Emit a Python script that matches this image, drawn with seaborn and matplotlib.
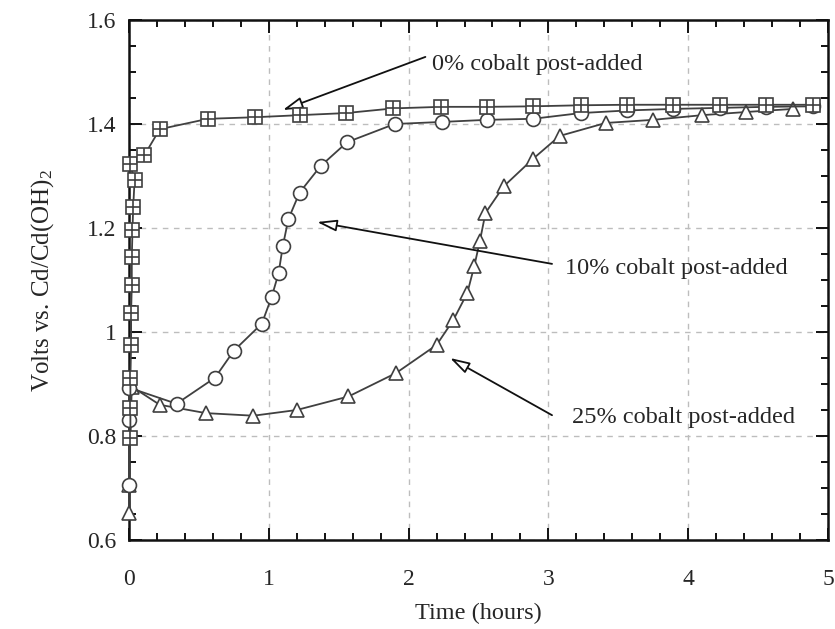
import numpy as np
import pandas as pd
import matplotlib
matplotlib.use("Agg")
import matplotlib.pyplot as plt
import seaborn as sns
from matplotlib.ticker import MultipleLocator, FuncFormatter

# ---- data ----
t_0pct = [0.01, 0.01, 0.01, 0.015, 0.015, 0.02, 0.02, 0.025, 0.03, 0.04, 0.007, 0.11,
          0.22, 0.565, 0.90, 1.22, 1.55, 1.89, 2.23, 2.56, 2.89, 3.23, 3.56, 3.89,
          4.23, 4.56, 4.89]
v_0pct = [0.796, 0.854, 0.911, 0.975, 1.037, 1.090, 1.144, 1.196, 1.240, 1.292, 1.323, 1.340,
          1.390, 1.410, 1.413, 1.417, 1.421, 1.430, 1.433, 1.433, 1.434, 1.436, 1.437, 1.437,
          1.437, 1.437, 1.437]

t_10pct = [0.0, 0.0, 0.0, 0.34, 0.615, 0.75, 0.95, 1.02, 1.07, 1.10, 1.14, 1.22, 1.37,
           1.56, 1.90, 2.24, 2.56, 2.89, 3.23, 3.56, 3.89, 4.23, 4.56, 4.89]
v_10pct = [0.706, 0.830, 0.893, 0.862, 0.912, 0.964, 1.016, 1.067, 1.113, 1.165, 1.217, 1.268, 1.319,
           1.365, 1.400, 1.404, 1.408, 1.410, 1.421, 1.426, 1.429, 1.431, 1.433, 1.434]

t_25pct = [0.0, 0.0, 0.02, 0.22, 0.55, 0.89, 1.20, 1.57, 1.91, 2.20, 2.32, 2.42, 2.47,
           2.51, 2.55, 2.68, 2.89, 3.08, 3.41, 3.75, 4.10, 4.41, 4.75]
v_25pct = [0.652, 0.706, 0.895, 0.860, 0.844, 0.839, 0.850, 0.876, 0.921, 0.975, 1.023, 1.075, 1.127,
           1.175, 1.229, 1.280, 1.333, 1.377, 1.402, 1.408, 1.417, 1.423, 1.429]

labels = ["0% cobalt post-added", "10% cobalt post-added", "25% cobalt post-added"]
x_ticks = [0, 1, 2, 3, 4, 5]
y_ticks = [0.6, 0.8, 1.0, 1.2, 1.4, 1.6]

df0 = pd.DataFrame({"t": t_0pct, "v": v_0pct})
df10 = pd.DataFrame({"t": t_10pct, "v": v_10pct})
df25 = pd.DataFrame({"t": t_25pct, "v": v_25pct})

sns.set_style("ticks")
plt.rcParams["font.family"] = ["Liberation Serif", "DejaVu Serif"]
plt.rcParams["mathtext.fontset"] = "custom"
plt.rcParams["mathtext.rm"] = "Liberation Serif"
plt.rcParams["mathtext.it"] = "Liberation Serif:italic"

fig = plt.figure(figsize=(8.35, 6.29), dpi=100)
ax = fig.add_axes([129/835, 1-540/629, (828-129)/835, (540-20)/629])

lc = "#404040"
tc = "#262626"
common = dict(color=lc, lw=1.3, mfc="white", mec=lc, mew=1.2, sort=False,
              estimator=None, ax=ax, legend=False, clip_on=False)

sns.lineplot(data=df25, x="t", y="v", marker="^", markersize=10.5, zorder=3, **common)
sns.lineplot(data=df10, x="t", y="v", marker="o", markersize=10, zorder=4, **common)
sns.lineplot(data=df0, x="t", y="v", marker="s", markersize=9.5, zorder=5, **common)
sns.scatterplot(data=df0, x="t", y="v", marker="+", s=90, color=lc, linewidth=1.2,
                ax=ax, legend=False, zorder=6, clip_on=False)

ax.set_xlim(0, 5)
ax.set_ylim(0.6, 1.6)
ax.set_xticks(x_ticks)
ax.set_yticks(y_ticks)
ax.xaxis.set_minor_locator(MultipleLocator(0.2))
ax.yaxis.set_minor_locator(MultipleLocator(0.05))
ax.yaxis.set_major_formatter(FuncFormatter(lambda v, p: f"{v:g}"))
ax.grid(True, which="major", ls=(0, (4, 4)), color="#bdbdbd", lw=1.0)
ax.tick_params(which="both", direction="in", top=True, right=True, colors="#111111",
               labelcolor=tc, labelsize=17, width=1.4)
ax.tick_params(which="major", length=9)
ax.tick_params(which="minor", length=5)
ax.tick_params(axis="x", which="major", pad=21)
ax.tick_params(axis="y", which="major", pad=9)
for s in ax.spines.values():
    s.set_linewidth(1.8)
    s.set_color("#111111")

ax.set_xlabel("Time (hours)", fontsize=17.5, color=tc, labelpad=9)
ax.set_ylabel("Volts vs. Cd/Cd(OH)$_2$", fontsize=18, color=tc, labelpad=22)

ap = dict(arrowstyle="-|>,head_length=1.2,head_width=0.35", fc="white", ec="#111111", lw=1.3,
          shrinkA=0, shrinkB=0)
ax.annotate("", xy=(1.10, 1.427), xytext=(2.12, 1.529), arrowprops=ap)
ax.text(2.165, 1.515, labels[0], fontsize=17.5, color=tc, va="center", ha="left")
ax.annotate("", xy=(1.345, 1.2115), xytext=(3.026, 1.131), arrowprops=ap)
ax.text(3.12, 1.122, labels[1], fontsize=17.5, color=tc, va="center", ha="left")
ax.annotate("", xy=(2.296, 0.95), xytext=(3.026, 0.840), arrowprops=ap)
ax.text(3.17, 0.835, labels[2], fontsize=17.5, color=tc, va="center", ha="left")

fig.savefig("out.png", dpi=100)
